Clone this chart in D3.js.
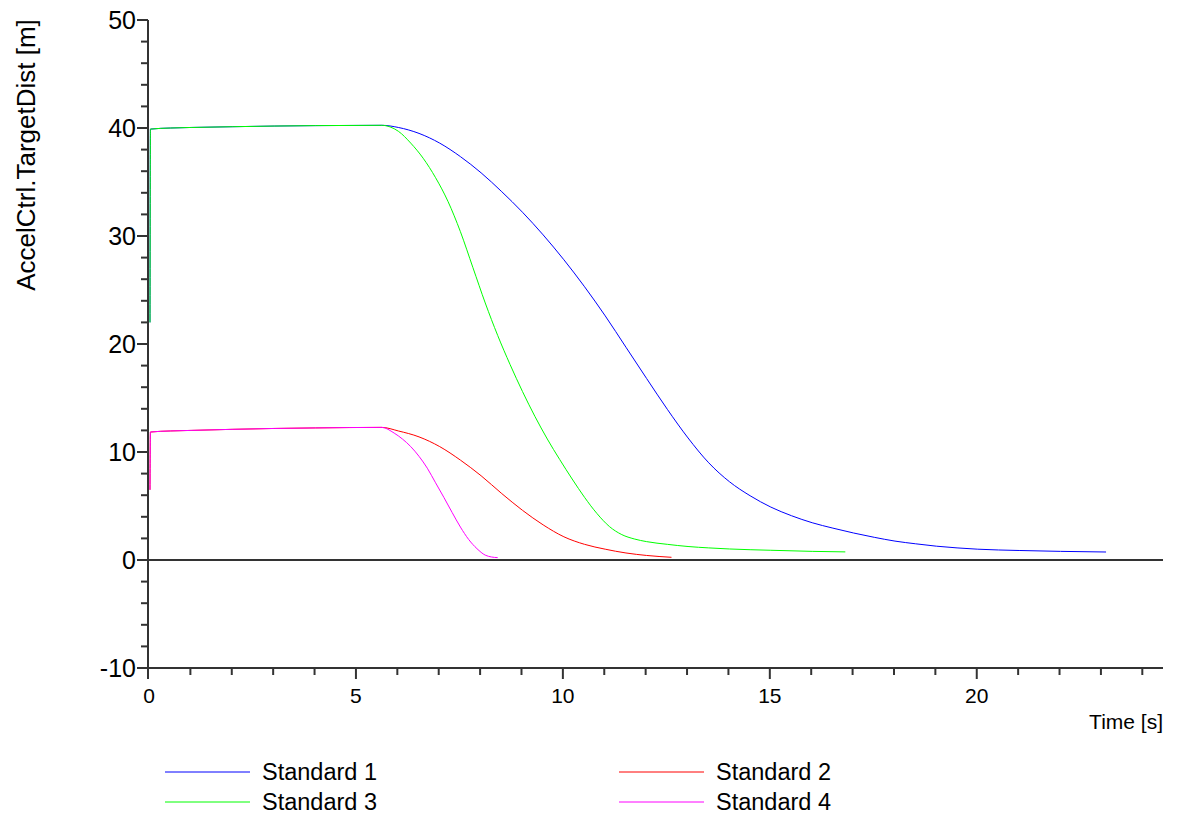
<!DOCTYPE html>
<html>
<head>
<meta charset="utf-8">
<script src="https://cdn.jsdelivr.net/npm/d3@7"></script>
<style>
  html, body { margin: 0; padding: 0; background: #fff; }
  svg { display: block; }
  text { font-family: "Liberation Sans", Arial, sans-serif; fill: #000; }
</style>
</head>
<body>
<svg id="chart" width="1185" height="818"></svg>
<script>
// ---- data ----
const seriesNames = ["Standard 1", "Standard 2", "Standard 3", "Standard 4"];
const seriesColors = ["#0000ff", "#ff0000", "#00ff00", "#ff00ff"];

const standard1 = [[0,22],[0.01,39.9],[0.5,40.0],[1,40.05],[2,40.12],[3,40.18],[4,40.22],[5.6,40.25],[6.0,40.05],[6.5,39.5],[7,38.6],[7.5,37.35],[8,35.85],[8.5,34.1],[9,32.2],[9.5,30.1],[10,27.8],[10.5,25.3],[11,22.6],[11.5,19.7],[12,16.8],[12.5,13.95],[13,11.3],[13.5,9.0],[14,7.25],[14.5,5.95],[15,4.9],[15.5,4.1],[16,3.45],[16.5,2.95],[17,2.5],[17.5,2.1],[18,1.75],[18.5,1.5],[19,1.28],[19.5,1.12],[20,1.0],[21,0.88],[22,0.8],[23.1,0.74]];
const standard2 = [[0,6.5],[0.01,11.85],[0.5,11.95],[1,12.0],[2,12.1],[3,12.18],[4,12.23],[5.6,12.28],[6.0,11.95],[6.5,11.4],[7,10.5],[7.5,9.25],[8,7.8],[8.5,6.15],[9,4.6],[9.5,3.25],[10,2.15],[10.5,1.45],[11,1.0],[11.5,0.65],[12,0.42],[12.6,0.25]];
const standard3 = [[0,22],[0.01,39.9],[0.5,40.0],[1,40.05],[2,40.12],[3,40.18],[4,40.22],[5.6,40.25],[5.8,40.1],[6,39.7],[6.3,38.6],[6.6,37.2],[6.9,35.4],[7.2,33.2],[7.5,30.4],[7.8,27.1],[8.1,23.8],[8.4,20.8],[8.7,18.1],[9.0,15.6],[9.3,13.3],[9.6,11.2],[9.9,9.3],[10.2,7.5],[10.5,5.8],[10.8,4.3],[11.1,3.1],[11.4,2.35],[11.7,1.95],[12,1.7],[12.5,1.45],[13,1.25],[13.5,1.12],[14,1.02],[15,0.9],[16,0.8],[16.8,0.75]];
const standard4 = [[0,6.5],[0.01,11.85],[0.5,11.95],[1,12.0],[2,12.1],[3,12.18],[4,12.23],[5.6,12.28],[5.9,11.75],[6.1,11.2],[6.3,10.5],[6.5,9.6],[6.7,8.5],[6.9,7.15],[7.1,5.8],[7.3,4.4],[7.5,3.05],[7.7,1.9],[7.9,1.05],[8.1,0.45],[8.25,0.28],[8.4,0.22]];
const seriesData = [standard1, standard2, standard3, standard4];

const xTickLabels = [0, 5, 10, 15, 20];
const yTickLabels = [-10, 0, 10, 20, 30, 40, 50];
const xDomain = [0, 24.5];
const yDomain = [-10, 50];
const xTitle = "Time [s]";
const yTitle = "AccelCtrl.TargetDist [m]";

// ---- layout ----
const svg = d3.select("#chart");
const mLeft = 149, mRight = 1163, mTop = 20, mBottom = 668;
const x = d3.scaleLinear().domain(xDomain).range([mLeft, mRight]);
const y = d3.scaleLinear().domain(yDomain).range([mBottom, mTop]);
const axisColor = "#333";
const axisX = mLeft - 1;

// zero line
svg.append("line")
  .attr("x1", axisX).attr("x2", mRight)
  .attr("y1", y(0)).attr("y2", y(0))
  .attr("stroke", axisColor).attr("stroke-width", 2);

// x axis
const xAxis = svg.append("g");
xAxis.append("line").attr("x1", axisX).attr("x2", mRight).attr("y1", mBottom).attr("y2", mBottom)
  .attr("stroke", axisColor).attr("stroke-width", 2);
d3.range(0, 25).forEach(v => {
  const major = v % 5 === 0;
  const px = v === 0 ? axisX : x(v);
  xAxis.append("line")
    .attr("x1", px).attr("x2", px)
    .attr("y1", mBottom).attr("y2", mBottom + (major ? 11 : 7))
    .attr("stroke", axisColor).attr("stroke-width", 2);
});
xTickLabels.forEach(v => {
  xAxis.append("text").attr("x", x(v)).attr("y", mBottom + 35)
    .attr("text-anchor", "middle").attr("font-size", 21).text(v);
});
xAxis.append("text").attr("x", mRight).attr("y", 729)
  .attr("text-anchor", "end").attr("font-size", 21).text(xTitle);

// y axis
const yAxis = svg.append("g");
yAxis.append("line").attr("x1", axisX).attr("x2", axisX).attr("y1", mTop).attr("y2", mBottom + 1)
  .attr("stroke", axisColor).attr("stroke-width", 2);
d3.range(-10, 51, 2).forEach(v => {
  const major = v % 10 === 0;
  yAxis.append("line")
    .attr("x1", axisX - (major ? 11 : 7)).attr("x2", axisX)
    .attr("y1", y(v)).attr("y2", y(v))
    .attr("stroke", axisColor).attr("stroke-width", 2);
});
yTickLabels.forEach(v => {
  yAxis.append("text").attr("x", axisX - 12).attr("y", y(v))
    .attr("dy", "0.36em")
    .attr("text-anchor", "end").attr("font-size", 25).text(v);
});
yAxis.append("text")
  .attr("transform", `translate(35,155) rotate(-90)`)
  .attr("text-anchor", "middle").attr("font-size", 26).text(yTitle);

// series (drawn over the axes)
const line = d3.line().x(d => x(d[0]) + 1).y(d => y(d[1])).curve(d3.curveMonotoneX);
const plot = svg.append("g");
seriesData.forEach((s, i) => {
  plot.append("path").datum(s)
    .attr("d", line)
    .attr("fill", "none")
    .attr("stroke", seriesColors[i])
    .attr("stroke-width", 1);
});

// legend
const legend = svg.append("g");
const legCols = [165, 619];
const legRows = [772, 802];
seriesNames.forEach((name, i) => {
  const cx = legCols[i % 2], cy = legRows[Math.floor(i / 2)];
  legend.append("line").attr("x1", cx).attr("x2", cx + 85)
    .attr("y1", cy).attr("y2", cy)
    .attr("stroke", seriesColors[i]).attr("stroke-width", 1);
  legend.append("text").attr("x", cx + 97).attr("y", cy).attr("dy", "0.36em")
    .attr("font-size", 23.5).text(name);
});
</script>
</body>
</html>
